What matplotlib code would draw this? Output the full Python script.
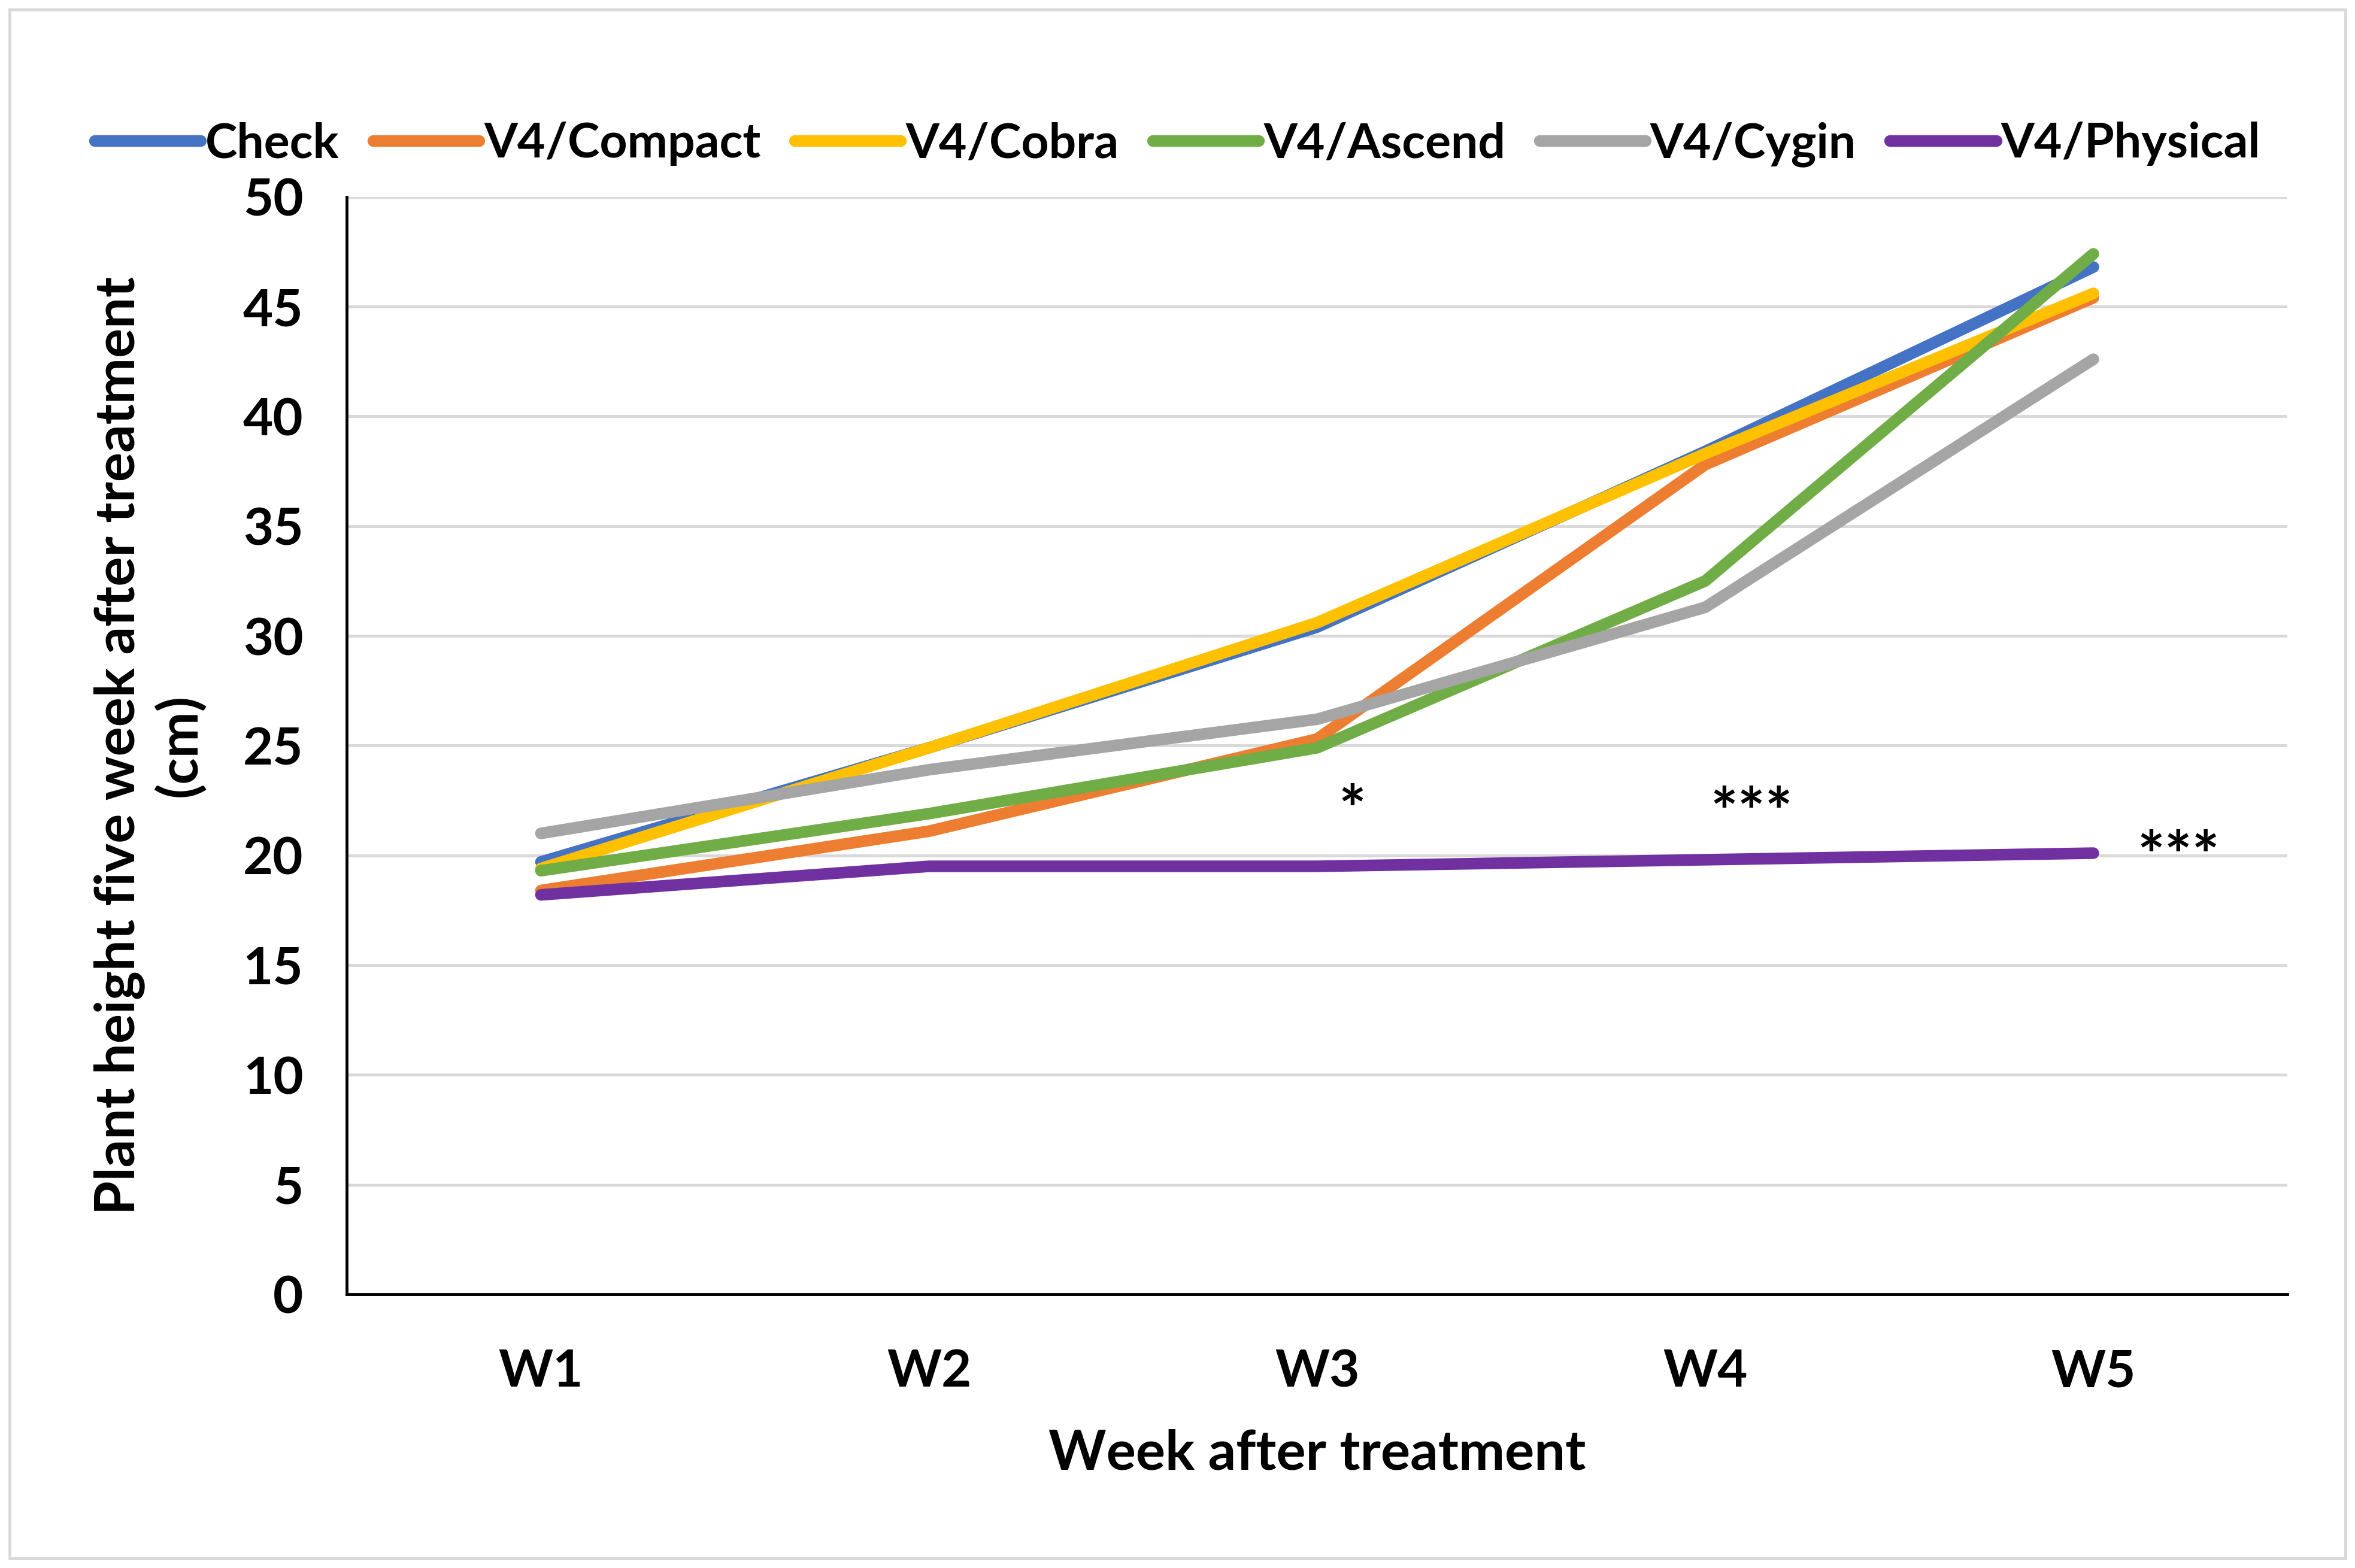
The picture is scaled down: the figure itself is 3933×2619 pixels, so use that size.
import matplotlib.pyplot as plt
from matplotlib.patches import Rectangle

plt.rcParams['font.family'] = ['Lato', 'DejaVu Sans']
plt.rcParams['font.weight'] = 'bold'

# data
weeks = ["W1", "W2", "W3", "W4", "W5"]
check = [19.7, 24.9, 30.4, 38.4, 46.8]
compact = [18.4, 21.1, 25.3, 37.8, 45.4]
cobra = [19.4, 24.9, 30.6, 38.3, 45.6]
ascend = [19.3, 21.9, 24.9, 32.5, 47.4]
cygin = [21.0, 23.9, 26.2, 31.3, 42.6]
physical = [18.2, 19.5, 19.5, 19.8, 20.1]

series_names = ["Check", "V4/Compact", "V4/Cobra", "V4/Ascend", "V4/Cygin", "V4/Physical"]
series_vals = [check, compact, cobra, ascend, cygin, physical]
colors = ["#4472C4", "#ED7D31", "#FFC000", "#70AD47", "#A5A5A5", "#7030A0"]

# significance marks (x index, y value, text)
stars_x = [2.09, 3.12, 4.22]
stars_y = [21.9, 21.8, 19.8]
stars_txt = ["*", "***", "***"]

fig = plt.figure(figsize=(3933 / 250, 2619 / 250), dpi=250)
ax = fig.add_axes([0.1473, 0.1745, 0.824, 0.70])

x = list(range(len(weeks)))
for name, vals, c in zip(series_names, series_vals, colors):
    ax.plot(x, vals, color=c, lw=5.6, label=name, solid_capstyle='round', solid_joinstyle='round', zorder=3)

for sx, sy, st in zip(stars_x, stars_y, stars_txt):
    ax.text(sx, sy, st, fontsize=31, fontweight='bold', ha='center', va='center', zorder=4)

ax.set_xlim(-0.5, 4.5)
ax.set_ylim(0, 50)
ax.set_yticks(range(0, 51, 5))
ax.set_xticks(x)
ax.set_xticklabels(weeks)
ax.yaxis.grid(True, color="#D9D9D9", lw=1.4, zorder=0)
ax.set_axisbelow(True)
for s in ["top", "right"]:
    ax.spines[s].set_visible(False)
for s in ["left", "bottom"]:
    ax.spines[s].set_linewidth(1.4)
    ax.spines[s].set_color("black")
ax.tick_params(axis='both', length=0, labelsize=25)
ax.tick_params(axis='x', pad=26)
ax.tick_params(axis='y', pad=21)

ax.set_xlabel("Week after treatment", fontsize=26.5, fontweight='bold', labelpad=16)
ax.set_ylabel("Plant height five week after treatment\n(cm)", fontsize=26.5, fontweight='bold', labelpad=18)

ax.legend(loc='center', bbox_to_anchor=(0.5, 0.908), bbox_transform=fig.transFigure,
          ncol=6, frameon=False, fontsize=23.2, handlelength=2.2, handletextpad=0.1,
          columnspacing=0.7)

fig.patches.append(Rectangle((0.004, 0.006), 0.992, 0.988, transform=fig.transFigure,
                             fill=False, edgecolor="#D9D9D9", lw=1.4))

fig.savefig("out.png", dpi=250, facecolor="white")
